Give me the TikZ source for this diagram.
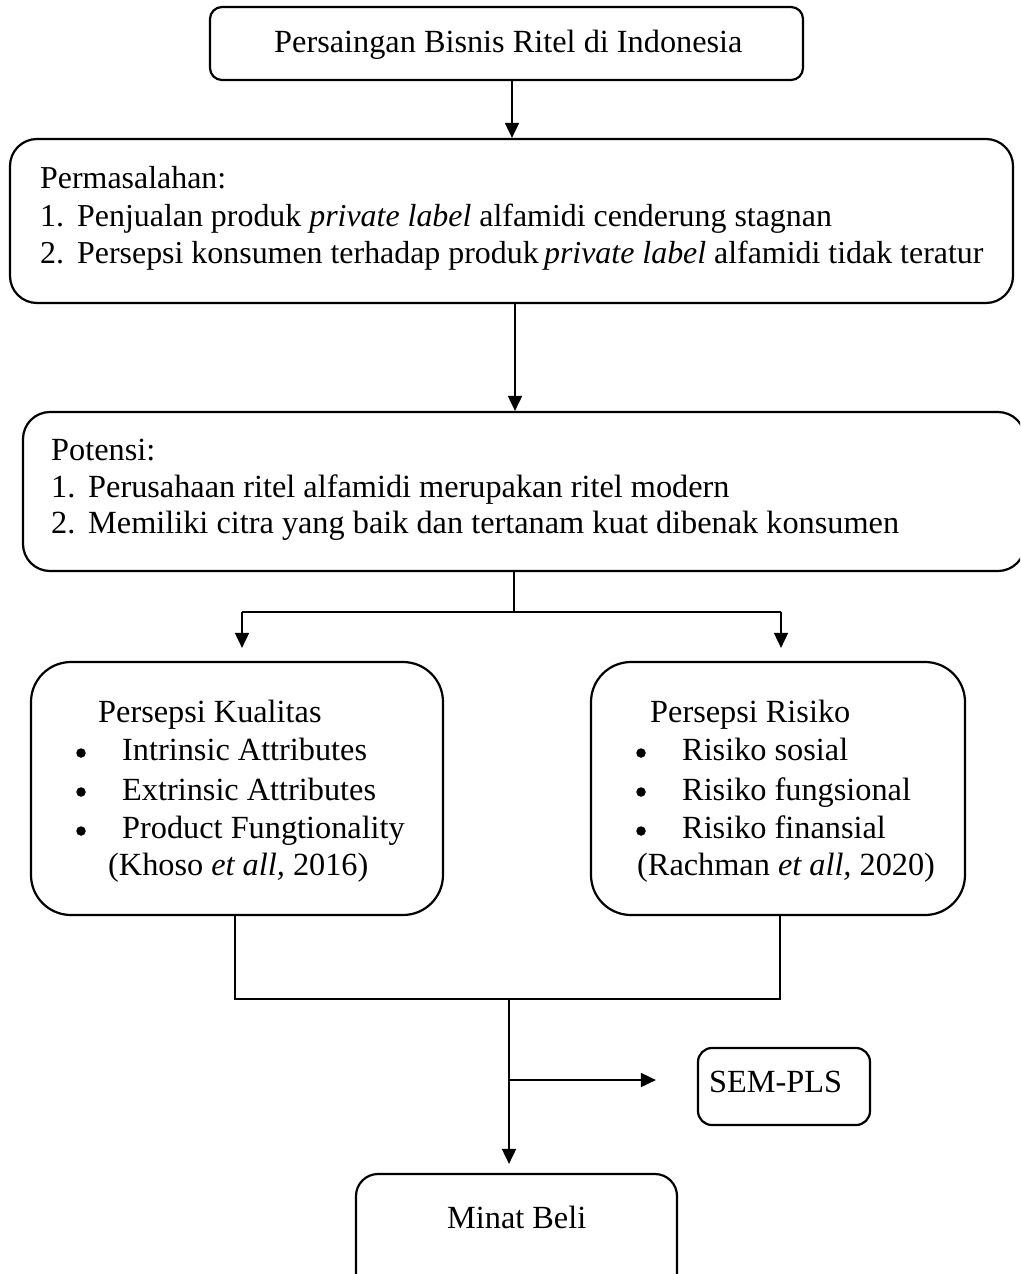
\documentclass[tikz,border=0pt]{standalone}
\usepackage{fontspec}
\setmainfont{Liberation Serif}
\usetikzlibrary{arrows.meta}
\begin{document}
\begin{tikzpicture}[x=1pt,y=-1pt,
  box/.style={draw, line width=2.2pt, rounded corners=#1, inner sep=0pt},
  txt/.style={anchor=base west, inner sep=0pt, font=\fontsize{32.3pt}{38pt}\selectfont},
  txtb/.style={anchor=base west, inner sep=0pt, font=\fontsize{31.9pt}{38pt}\selectfont},
  dot/.style={circle, fill, inner sep=0pt, minimum size=9.5pt},
  conn/.style={line width=1.8pt},
  arr/.style={conn, -{Triangle[length=15pt,width=14pt]}}]
\clip (0,0) rectangle (1020,1274);
\fill[white] (0,0) rectangle (1020,1274);

% boxes
\node[box=12pt, minimum width=593pt, minimum height=73pt] (b1) at (506.5,43.5) {};
\node[box=27pt, minimum width=1003pt, minimum height=164pt] (b2) at (511.5,221) {};
\node[box=27pt, minimum width=1002pt, minimum height=159pt] (b3) at (524,491.5) {};
\node[box=40pt, minimum width=412pt, minimum height=253pt] (b4) at (237,788.5) {};
\node[box=40pt, minimum width=374pt, minimum height=253pt] (b5) at (778,788.5) {};
\node[box=14pt, minimum width=172pt, minimum height=77pt] (sem) at (784,1086.5) {};
\node[box=22pt, minimum width=321pt, minimum height=126pt] (mb) at (516.5,1237) {};

% texts
\node[txt] (t1) at (274,52) {Persaingan Bisnis Ritel di Indonesia};

\node[txtb] (t2a) at (40,188) {Permasalahan:};
\node[txtb] (t2b) at (40,226) {1.};
\node[txtb] (t2c) at (77,226) {Penjualan produk \textit{private label} alfamidi cenderung stagnan};
\node[txtb] (t2d) at (40,263) {2.};
\node[txtb] (t2e) at (77,263) {Persepsi konsumen terhadap produk\,\textit{private label} alfamidi tidak teratur};

\node[txt] (t3a) at (51,460) {Potensi:};
\node[txt] (t3b) at (51,497) {1.};
\node[txt] (t3c) at (88,497) {Perusahaan ritel alfamidi merupakan ritel modern};
\node[txt] (t3d) at (51,533) {2.};
\node[txt] (t3e) at (88,533) {Memiliki citra yang baik dan tertanam kuat dibenak konsumen};

\node[txt] (t4a) at (98,722) {Persepsi Kualitas};
\node[dot] (t4b) at (81,753) {};
\node[txt] (t4c) at (122,760) {Intrinsic Attributes};
\node[dot] (t4d) at (81,792) {};
\node[txt] (t4e) at (122,800) {Extrinsic Attributes};
\node[dot] (t4f) at (81,831) {};
\node[txt] (t4g) at (122,838) {Product Fungtionality};
\node[txt] (t4h) at (108,875) {(Khoso \textit{et all,} 2016)};

\node[txt] (t5a) at (650,722) {Persepsi Risiko};
\node[dot] (t5b) at (641,753) {};
\node[txt] (t5c) at (682,760) {Risiko sosial};
\node[dot] (t5d) at (641,792) {};
\node[txt] (t5e) at (682,800) {Risiko fungsional};
\node[dot] (t5f) at (641,831) {};
\node[txt] (t5g) at (682,838) {Risiko finansial};
\node[txt] (t5h) at (637,875) {(Rachman \textit{et all,} 2020)};

\node[txt] (t6) at (709,1092) {SEM-PLS};
\node[txt] (t7) at (447,1228) {Minat Beli};

% connectors
\coordinate (c1) at (512,0);
\draw[arr] (b1.south -| c1) -- (b2.north -| c1);
\coordinate (c2) at (515,0);
\draw[arr] (b2.south -| c2) -- (b3.north -| c2);

\coordinate (sp) at (514,612);
\coordinate (sl) at (242,612);
\coordinate (sr) at (781,612);
\draw[conn] (b3.south -| sp) -- (sp);
\draw[conn] (sl) -- (sr);
\draw[arr, shorten >=13pt] (sl) -- (sl |- b4.north);
\draw[arr, shorten >=13pt] (sr) -- (sr |- b5.north);

\coordinate (jl) at (235,999);
\coordinate (jr) at (780,999);
\coordinate (jm) at (509,999);
\draw[conn] (b4.south -| jl) -- (jl) -- (jr) -- (b5.south -| jr);
\draw[arr, shorten >=9pt] (jm) -- (jm |- mb.north);
\coordinate (br) at (509,1080);
\draw[arr, shorten >=41pt] (br) -- (br -| sem.west);
\end{tikzpicture}
\end{document}
